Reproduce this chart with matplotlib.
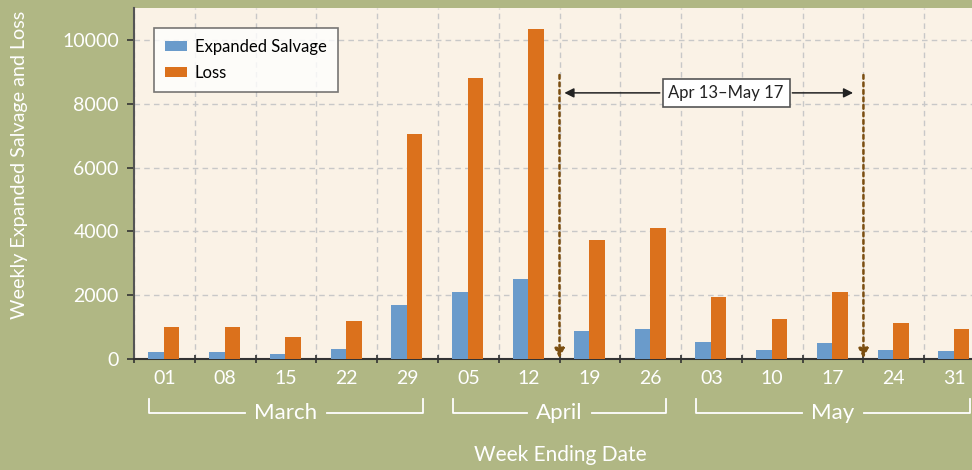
import matplotlib
matplotlib.use("Agg")
import matplotlib.pyplot as plt
import numpy as np

plt.rcParams['font.family'] = ['Lato', 'DejaVu Sans']

weeks = ["01", "08", "15", "22", "29", "05", "12", "19", "26", "03", "10", "17", "24", "31"]
months = ["March", "April", "May"]
month_spans = [(0, 4), (5, 8), (9, 13)]
salvage = [220, 220, 160, 310, 1690, 2100, 2500, 880, 940, 530, 280, 500, 280, 250]
loss = [1000, 1000, 690, 1180, 7050, 8800, 10340, 3730, 4100, 1940, 1250, 2100, 1130, 940]
period_label = "Apr 13\u2013May 17"
period_bounds = (6.5, 11.5)

bg = "#b0b784"
panel = "#faf2e6"
blue = "#6a9bcb"
orange = "#db711c"
brown = "#7b4e10"
white = "#ffffff"

fig = plt.figure(figsize=(9.72, 4.70), dpi=100, facecolor=bg)
ax = fig.add_axes([134 / 972, 1 - 359 / 470, 851 / 972, 351 / 470])
ax.set_facecolor(panel)

x = np.arange(len(weeks))
w = 0.255
ax.bar(x - w / 2 - 0.01, salvage, width=w, color=blue, label="Expanded Salvage", zorder=3)
ax.bar(x + w / 2 - 0.01, loss, width=w, color=orange, label="Loss", zorder=3)

ax.set_xlim(-0.5, len(weeks) - 0.5)
ax.set_ylim(0, 11000)

# grid on category boundaries and y ticks
ax.set_yticks([0, 2000, 4000, 6000, 8000, 10000])
ax.set_xticks(np.arange(-0.5, len(weeks) - 0.5, 1.0))
ax.set_xticklabels([])
ax.set_xticks(x, minor=True)
ax.set_xticklabels(weeks, minor=True)
ax.tick_params(axis="x", which="minor", length=0, pad=8, labelsize=14, colors=white)
ax.tick_params(axis="x", which="major", length=6, width=1.2, color="#333333", direction="inout")
ax.tick_params(axis="y", length=5, width=1.2, color="#333333", labelsize=14,
               labelcolor=white, pad=6)
ax.grid(True, which="major", color="#c8c8c8", linestyle=(0, (4, 3)), linewidth=1, zorder=0)

for s in ["top", "right"]:
    ax.spines[s].set_visible(False)
ax.spines["left"].set_color("#555555")
ax.spines["left"].set_linewidth(1.5)
ax.spines["bottom"].set_color("#333333")
ax.spines["bottom"].set_linewidth(1.5)

# period markers
for xb in period_bounds:
    ax.annotate("", xy=(xb, 20), xytext=(xb, 8900),
                arrowprops=dict(arrowstyle="-|>", color=brown, lw=1.8,
                                linestyle=(0, (1.5, 1.5)), mutation_scale=14,
                                shrinkA=0, shrinkB=0), zorder=4)

mid = 9.24
ax.annotate("", xy=(6.58, 8340), xytext=(8.15, 8340),
            arrowprops=dict(arrowstyle="-|>", color="#222222", lw=1.1, mutation_scale=14,
                            shrinkA=0, shrinkB=0), zorder=5)
ax.annotate("", xy=(11.33, 8340), xytext=(10.33, 8340),
            arrowprops=dict(arrowstyle="-|>", color="#222222", lw=1.1, mutation_scale=14,
                            shrinkA=0, shrinkB=0), zorder=5)
ax.text(mid, 8340, period_label, ha="center", va="center", fontsize=12, color="#222222",
        bbox=dict(boxstyle="square,pad=0.35", fc="white", ec="#555555", lw=1.2), zorder=6)

leg = ax.legend(loc="upper left", bbox_to_anchor=(0.0235, 0.943), borderaxespad=0,
                fontsize=12, frameon=True, fancybox=False, edgecolor="#555555",
                handlelength=1.35, handleheight=0.6, handletextpad=0.45,
                borderpad=0.65, labelspacing=0.6)
leg.get_frame().set_linewidth(1.2)
leg.set_zorder(7)

# month brackets below the week labels
trans = ax.get_xaxis_transform()
y_line = -(413 - 359) / 351
y_tick = -(399 - 359) / 351
fig.canvas.draw()
renderer = fig.canvas.get_renderer()
px_per_cat = ax.transData.transform((1, 0))[0] - ax.transData.transform((0, 0))[0]
for name, (a, b) in zip(months, month_spans):
    x0, x1 = a - 0.25, b + 0.25
    xm = (x0 + x1) / 2
    t = ax.text(xm, y_line, name, ha="center", va="center", fontsize=16, color=white,
                transform=trans)
    tw = t.get_window_extent(renderer).width
    half_gap = (tw / 2 + 9) / px_per_cat
    kw = dict(color=white, lw=1.3, transform=trans, clip_on=False)
    ax.plot([x0, x0, xm - half_gap], [y_tick, y_line, y_line], **kw)
    ax.plot([xm + half_gap, x1, x1], [y_line, y_line, y_tick], **kw)

fig.text(560 / 972, 1 - 455 / 470, "Week Ending Date", ha="center", va="center",
         fontsize=15, color=white)
fig.text(20 / 972, 1 - 165 / 470, "Weekly Expanded Salvage and Loss", ha="center",
         va="center", rotation=90, fontsize=14.2, color=white)

fig.savefig("out.png", dpi=100, facecolor=bg)
